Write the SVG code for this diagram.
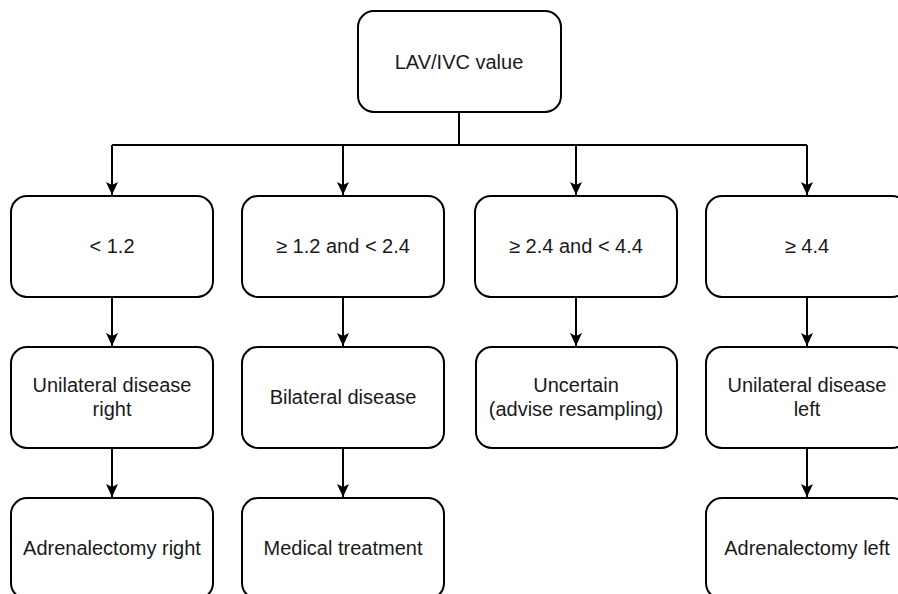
<svg xmlns="http://www.w3.org/2000/svg" width="898" height="594" viewBox="0 0 898 594">
<style>
.box{fill:#fff;stroke:#000;stroke-width:2}
.t{font-family:"Liberation Sans",Arial,sans-serif;font-size:20px;fill:#1a1a1a;text-anchor:middle}
.c{fill:none;stroke:#000;stroke-width:2}
</style>
<defs>
<marker id="arr" markerUnits="userSpaceOnUse" markerWidth="16" markerHeight="14" viewBox="-14 -7 16 14" refX="0" refY="0" orient="auto">
<path d="M0,0 L-13,-6 L-10,0 L-13,6 Z" fill="#000"/>
</marker>
</defs>
<rect width="898" height="594" fill="#fff"/>
<g id="connectors">
<path class="c" d="M459,112 V145"/>
<path class="c" d="M112,145 H807"/>
<path class="c" d="M112,145 V195" marker-end="url(#arr)"/>
<path class="c" d="M343,145 V195" marker-end="url(#arr)"/>
<path class="c" d="M576,145 V195" marker-end="url(#arr)"/>
<path class="c" d="M807,145 V195" marker-end="url(#arr)"/>
<path class="c" d="M112,297 V346" marker-end="url(#arr)"/>
<path class="c" d="M343,297 V346" marker-end="url(#arr)"/>
<path class="c" d="M576,297 V346" marker-end="url(#arr)"/>
<path class="c" d="M807,297 V346" marker-end="url(#arr)"/>
<path class="c" d="M112,448 V497" marker-end="url(#arr)"/>
<path class="c" d="M343,448 V497" marker-end="url(#arr)"/>
<path class="c" d="M807,448 V497" marker-end="url(#arr)"/>
</g>
<g id="root"><rect class="box" x="358" y="11" width="203" height="101" rx="16"/><text class="t" x="459" y="69">LAV/IVC value</text></g>
<g id="r1a"><rect class="box" x="11" y="196" width="202" height="101" rx="16"/><text class="t" x="112" y="253">&lt; 1.2</text></g>
<g id="r1b"><rect class="box" x="242" y="196" width="202" height="101" rx="16"/><text class="t" x="343" y="253">≥ 1.2 and &lt; 2.4</text></g>
<g id="r1c"><rect class="box" x="475" y="196" width="202" height="101" rx="16"/><text class="t" x="576" y="253">≥ 2.4 and &lt; 4.4</text></g>
<g id="r1d"><rect class="box" x="706" y="196" width="202" height="101" rx="16"/><text class="t" x="807" y="253">≥ 4.4</text></g>
<g id="r2a"><rect class="box" x="11" y="347" width="202" height="101" rx="16"/><text class="t" x="112" y="392">Unilateral disease</text><text class="t" x="112" y="416">right</text></g>
<g id="r2b"><rect class="box" x="242" y="347" width="202" height="101" rx="16"/><text class="t" x="343" y="404">Bilateral disease</text></g>
<g id="r2c"><rect class="box" x="476" y="347" width="201" height="101" rx="16"/><text class="t" x="576" y="392">Uncertain</text><text class="t" x="576" y="416">(advise resampling)</text></g>
<g id="r2d"><rect class="box" x="706" y="347" width="202" height="101" rx="16"/><text class="t" x="807" y="392">Unilateral disease</text><text class="t" x="807" y="416">left</text></g>
<g id="r3a"><rect class="box" x="11" y="498" width="202" height="101" rx="16"/><text class="t" x="112" y="555">Adrenalectomy right</text></g>
<g id="r3b"><rect class="box" x="242" y="498" width="202" height="101" rx="16"/><text class="t" x="343" y="555">Medical treatment</text></g>
<g id="r3d"><rect class="box" x="706" y="498" width="202" height="101" rx="16"/><text class="t" x="807" y="555">Adrenalectomy left</text></g>
</svg>
